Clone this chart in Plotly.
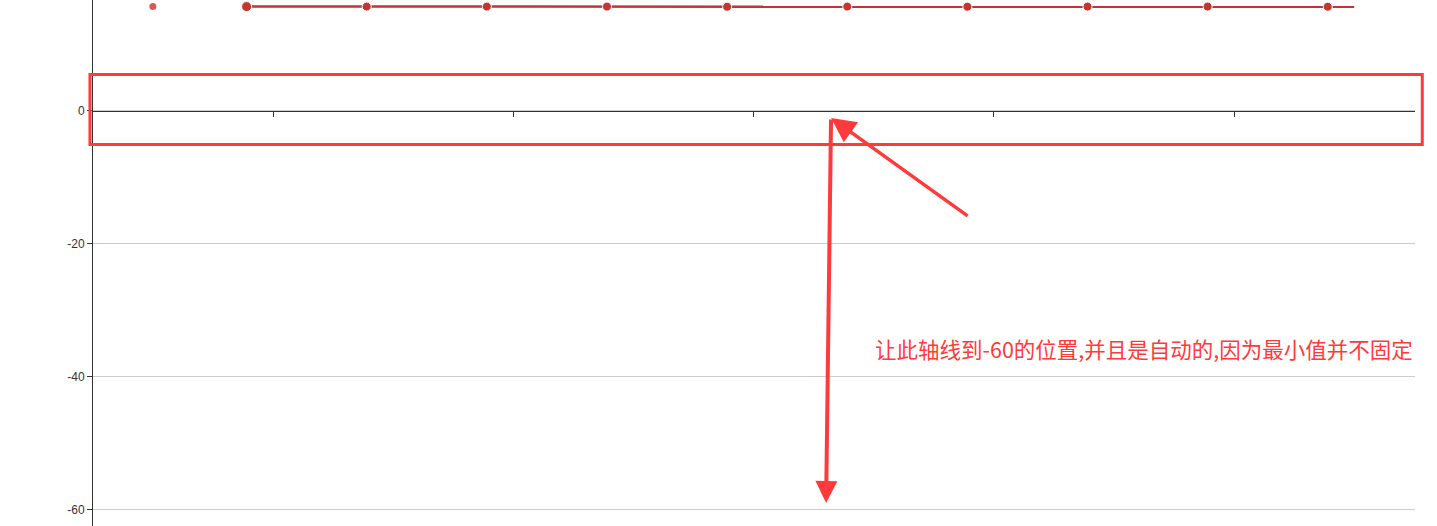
import plotly.graph_objs as go

# data
point_x = [0.89, 1.39, 1.89, 2.39, 2.89, 3.39, 3.89, 4.39, 4.89, 5.39]
point_y = [15.7, 15.7, 15.7, 15.7, 15.68, 15.7, 15.68, 15.7, 15.7, 15.68]
tail_x = [5.50]
tail_y = [15.68]
lone_x = [0.50]
lone_y = [15.7]

y_ticks = [0, -20, -40, -60]
y_ticktext = ["0", "-20", "-40", "-60"]
x_ticks = [1, 2, 3, 4, 5]

note = "让此轴线到-60的位置,并且是自动的,因为最小值并不固定"

x_range = [0.2508, 5.753]
y_range = [-62.41, 16.69]

RED = "#c23531"
MARK = "#ff3a3a"

fig = go.Figure()
fig.add_trace(go.Scatter(x=point_x + tail_x, y=point_y + tail_y, mode="lines",
                         line=dict(color=RED, width=2.5), hoverinfo="skip", showlegend=False))
fig.add_trace(go.Scatter(x=point_x, y=point_y, mode="markers",
                         marker=dict(color=RED, size=[10] + [9] * (len(point_x) - 1), opacity=1),
                         showlegend=False))
fig.add_trace(go.Scatter(x=lone_x, y=lone_y, mode="markers",
                         marker=dict(color="#d35a5a", size=7), showlegend=False))

# x axis sits on y = 0
xpos = (0 - y_range[0]) / (y_range[1] - y_range[0])

fig.update_layout(
    width=1437, height=526,
    margin=dict(l=93, r=22, t=0, b=0),
    paper_bgcolor="white", plot_bgcolor="white",
    font=dict(family="Liberation Sans, Arial, sans-serif", size=12, color="#333"),
    xaxis=dict(range=x_range, anchor="free", position=xpos,
               showline=True, linecolor="#333", linewidth=1,
               ticks="outside", ticklen=5, tickcolor="#333", tickvals=x_ticks,
               showticklabels=False, showgrid=False, zeroline=False),
    yaxis=dict(range=y_range, showline=True, linecolor="#333", linewidth=1,
               ticks="outside", ticklen=5, tickcolor="#333",
               tickvals=y_ticks, ticktext=y_ticktext,
               showgrid=True, gridcolor="#ccc", zeroline=False,
               tickfont=dict(size=12, color="#333")),
)

# red highlight box round the axis line
fig.add_shape(type="rect", xref="paper", yref="paper",
              x0=-0.0023, x1=1.0055, y0=0.7255, y1=0.8583,
              line=dict(color=MARK, width=3), fillcolor="rgba(0,0,0,0)")

# arrows
fig.add_annotation(x=3.3226, y=-1.05, ax=3.897, ay=-15.94,
                   xref="x", yref="y", axref="x", ayref="y",
                   text="", showarrow=True, arrowhead=2, arrowsize=1.4,
                   arrowwidth=3.5, arrowcolor=MARK)
fig.add_annotation(x=3.302, y=-58.95, ax=3.3226, ay=-1.05,
                   xref="x", yref="y", axref="x", ayref="y",
                   text="", showarrow=True, arrowhead=2, arrowsize=1.1,
                   arrowwidth=4, arrowcolor=MARK)

fig.add_annotation(x=1, y=0.338, xref="paper", yref="paper",
                   xanchor="right", yanchor="middle", showarrow=False,
                   text=note, font=dict(family="Noto Sans CJK SC", size=21.5, color=MARK))

# page has a default 8px body margin; drop it so the chart sits at the corner
fig.write_html("out.html", config={"displayModeBar": False},
               post_script="document.body.style.margin='0';")
